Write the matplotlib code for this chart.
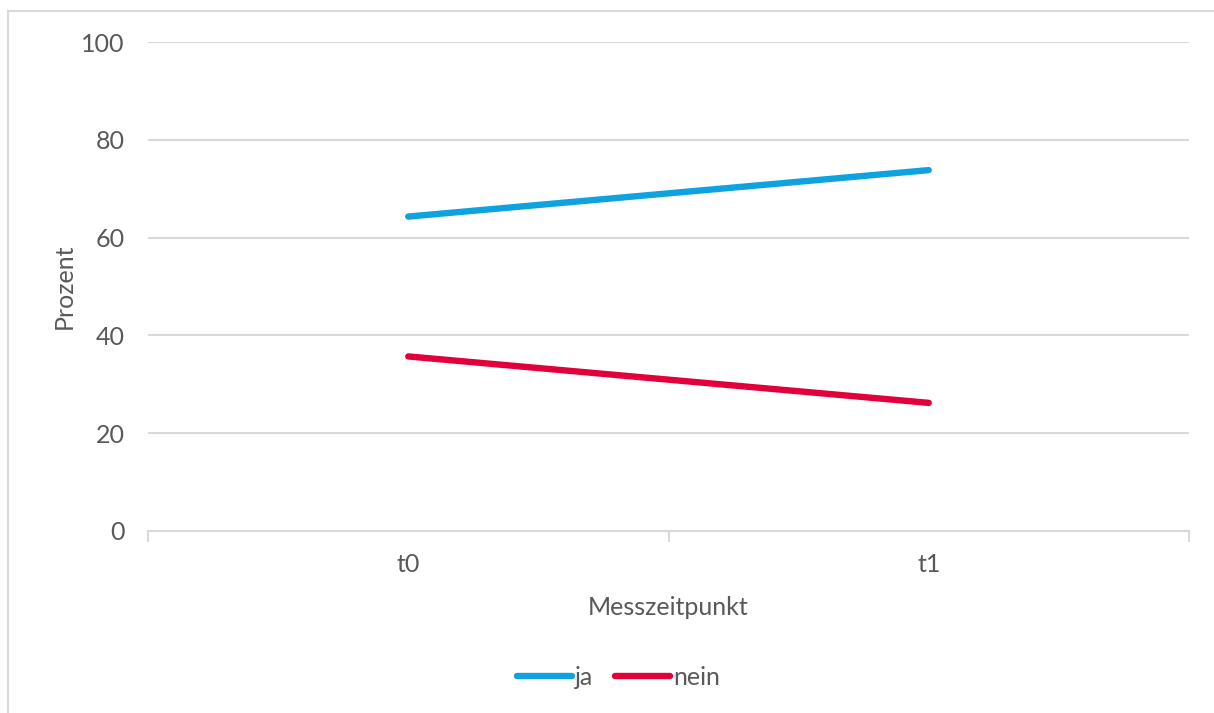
import matplotlib
matplotlib.use("Agg")
import matplotlib.pyplot as plt
from matplotlib.patches import Rectangle

# data
zeitpunkte = ["t0", "t1"]
ja = [64.3, 73.8]
nein = [35.7, 26.2]
y_ticks = [0, 20, 40, 60, 80, 100]

TEXT = "#595959"
GRID = "#D9D9D9"
plt.rcParams['font.family'] = ['Lato', 'DejaVu Sans']

fig = plt.figure(figsize=(12.14, 7.13), dpi=100)
ax = fig.add_axes([148 / 1214, 1 - 531 / 713, (1189 - 148) / 1214, (531 - 42) / 713])

x = list(range(len(zeitpunkte)))
ax.plot(x, ja, color="#0EA3DE", lw=4.6, solid_capstyle="round", label="ja", zorder=3)
ax.plot(x, nein, color="#E2003A", lw=4.6, solid_capstyle="round", label="nein", zorder=3)

ax.set_xlim(-0.5, len(zeitpunkte) - 0.5)
ax.set_ylim(0, 100)
ax.set_yticks(y_ticks)
ax.yaxis.grid(True, color=GRID, lw=1.5)
ax.set_axisbelow(True)

# category labels without marks, boundary ticks as minor ticks
ax.set_xticks(x)
ax.set_xticklabels(zeitpunkte)
ax.set_xticks([i - 0.5 for i in range(len(zeitpunkte) + 1)], minor=True)
ax.tick_params(axis="x", which="major", length=0, pad=16, labelsize=18, labelcolor=TEXT)
ax.tick_params(axis="x", which="minor", length=8, width=1.5, color=GRID)
ax.tick_params(axis="y", length=0, pad=17, labelsize=18, labelcolor=TEXT)

for s in ["top", "right", "left"]:
    ax.spines[s].set_visible(False)
ax.spines["bottom"].set_color(GRID)
ax.spines["bottom"].set_linewidth(1.5)

ax.set_xlabel("Messzeitpunkt", fontsize=18, color=TEXT, labelpad=14)
ax.set_ylabel("Prozent", fontsize=18, color=TEXT, labelpad=4)

leg = ax.legend(loc="center", bbox_to_anchor=(0.452, -0.3), ncol=2, frameon=False,
                fontsize=18, labelcolor=TEXT, handlelength=2.2, handletextpad=0.1,
                columnspacing=0.9)

# outer chart frame
fig.patches.append(Rectangle((8 / 1214, -0.05), 1.1, 1 - 11 / 713 + 0.05,
                             transform=fig.transFigure, fill=False,
                             edgecolor=GRID, lw=1.5))

fig.savefig("out.png", dpi=100)
